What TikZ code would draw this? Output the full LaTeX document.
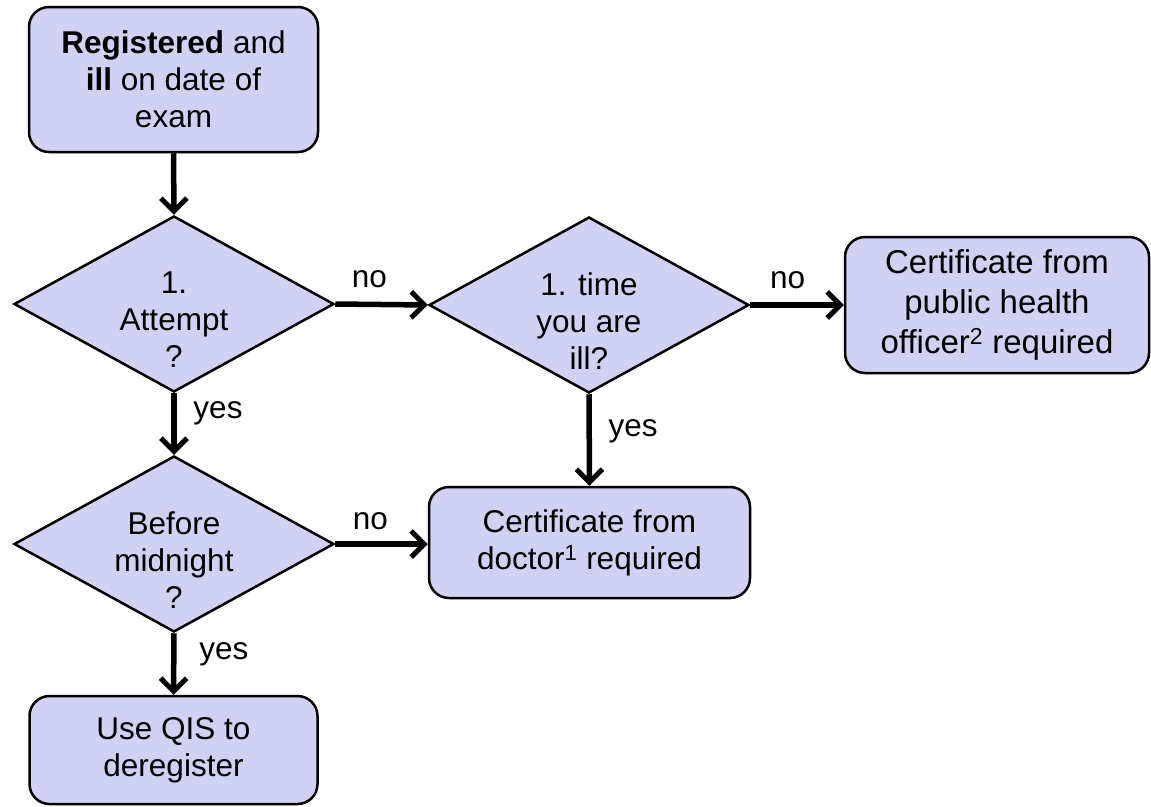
\documentclass[tikz,border=0pt]{standalone}
\usepackage{fontspec}
\setmainfont{Liberation Sans}
\usetikzlibrary{shapes.geometric,arrows.meta}
\definecolor{boxfill}{RGB}{208,209,243}
\begin{document}
\begin{tikzpicture}[x=1pt,y=-1pt,
  every node/.style={font=\fontsize{31.5}{37}\selectfont},
  stepbox/.style={draw, line width=2.5pt, fill=boxfill, rounded corners=20pt,
    align=center, inner sep=0pt},
  decision/.style={diamond, draw, line width=2.5pt, fill=boxfill, aspect=1.8,
    minimum width=320pt, minimum height=176pt, inner sep=0pt},
  dlabel/.style={align=center, yshift=-16pt},
  arr/.style={line width=5.5pt, -{Straight Barb[length=13pt, width=26pt, line width=5pt]}},
  lbl/.style={inner sep=0pt}
]
\useasboundingbox (0,0) rectangle (1151,806);

\node[stepbox, minimum width=289pt, minimum height=145pt] (start) at (173.5,79.5)
  {\textbf{Registered} and\\ \textbf{ill} on date of\\ exam};
\node[decision, label={[dlabel]center:1.\\ Attempt\\ ?}] (d1) at (174,304) {};
\node[decision, label={[dlabel]center:1. time\\ you are\\ ill?}] (d2) at (589,305) {};
\node[decision, label={[dlabel]center:Before\\ midnight\\ ?}] (d3) at (174,544) {};
\node[stepbox, minimum width=304pt, minimum height=136pt,
  font=\fontsize{33}{40}\selectfont] (pub) at (997,305)
  {Certificate from\\ public health\\ officer\textsuperscript{2} required};
\node[stepbox, minimum width=321pt, minimum height=111pt] (doc) at (589.5,542.5)
  {Certificate from\\ doctor\textsuperscript{1} required};
\node[stepbox, minimum width=288pt, minimum height=108pt] (qis) at (173.5,750)
  {Use QIS to\\ deregister};

\draw[arr] (start.south) -- (d1.north);
\draw[arr] (d1.east) -- node[lbl, pos=.37, yshift=25pt] {no} (d2.west);
\draw[arr] (d2.east) -- node[lbl, pos=.40, yshift=25pt] {no} (pub.west);
\draw[arr] (d1.south) -- node[lbl, pos=.32, xshift=44pt] {yes} (d3.north);
\draw[arr] (d2.south) -- node[lbl, pos=.40, xshift=44pt] {yes} (doc.north);
\draw[arr] (d3.east) -- node[lbl, pos=.38, yshift=23pt] {no} (d3.east -| doc.west);
\draw[arr] (d3.south) -- node[lbl, pos=.34, xshift=50pt] {yes} (qis.north);
\end{tikzpicture}
\end{document}
